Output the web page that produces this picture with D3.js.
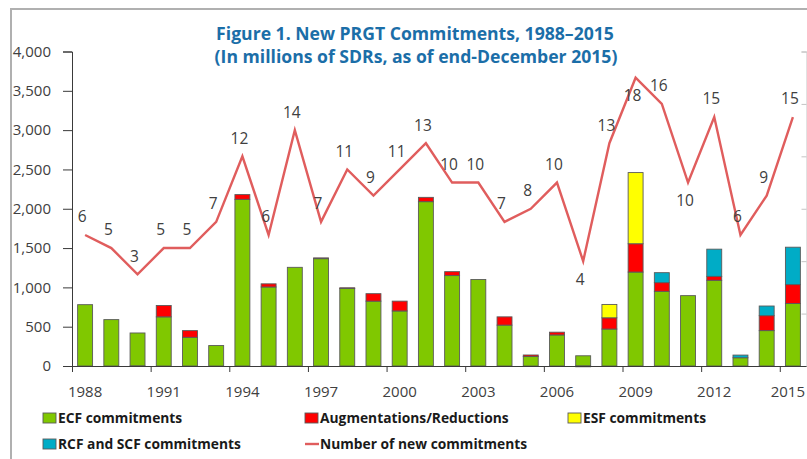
<!DOCTYPE html>
<html>
<head>
<meta charset="utf-8">
<script src="https://cdn.jsdelivr.net/npm/d3@7"></script>
<style>
  body { margin: 0; background: #fff; }
  svg { display: block; font-family: "Open Sans", sans-serif; }
</style>
</head>
<body>
<svg id="chart" width="807" height="459"></svg>
<script>
// Data (millions of SDRs)
const years = [1988, 1989, 1990, 1991, 1992, 1993, 1994, 1995, 1996, 1997,
  1998, 1999, 2000, 2001, 2002, 2003, 2004, 2005, 2006, 2007,
  2008, 2009, 2010, 2011, 2012, 2013, 2014, 2015];
const ecf = [780, 590, 420, 625, 365, 260, 2120, 1005, 1255, 1365,
  985, 825, 700, 2090, 1150, 1100, 520, 120, 395, 130,
  470, 1195, 950, 895, 1090, 105, 450, 795];
const augmentations = [0, 0, -5, 145, 85, 0, 60, 40, 0, 10,
  10, 95, 125, 55, 50, 0, 105, 20, 35, -10,
  143, 360, 110, 0, 50, 0, 190, 240];
const esf = [0, 0, 0, 0, 0, 0, 0, 0, 0, 0,
  0, 0, 0, 0, 0, 0, 0, 0, 0, 0,
  170, 905, 0, 0, 0, 0, 0, 0];
const rcfScf = [0, 0, 0, 0, 0, 0, 0, 0, 0, 0,
  0, 0, 0, 0, 0, 0, 0, 0, 0, 0,
  0, 0, 127, 0, 346, 34, 123, 476];
const newCommitments = [6, 5, 3, 5, 5, 7, 12, 6, 14, 7,
  11, 9, 11, 13, 10, 10, 7, 8, 10, 4,
  13, 18, 16, 10, 15, 6, 9, 15];
// where each count label sits relative to its point
const labelSide = ["t", "t", "t", "t", "t", "t", "t", "t", "t", "t",
  "t", "t", "t", "t", "t", "t", "t", "t", "t", "b",
  "t", "b", "t", "b", "t", "t", "t", "t"];
const leftTicks = [0, 500, 1000, 1500, 2000, 2500, 3000, 3500, 4000];
const rightTicks = [-4, 0, 4, 8, 12, 16, 20];
const xLabelYears = [1988, 1991, 1994, 1997, 2000, 2003, 2006, 2009, 2012, 2015];

const seriesKeys = ["ecf", "aug", "esf", "rcf"];
const seriesColors = { ecf: "#80c800", aug: "#ff0000", esf: "#ffff00", rcf: "#00acc6" };
const lineColor = "#e05d5d";

const rows = years.map((yr, i) => ({
  year: yr, ecf: ecf[i], aug: augmentations[i], esf: esf[i], rcf: rcfScf[i]
}));

const svg = d3.select("#chart");

// Outer frame
svg.append("rect")
  .attr("x", 11).attr("y", 9)
  .attr("width", 900).attr("height", 600)
  .attr("fill", "none")
  .attr("stroke", "#b0b0b0")
  .attr("stroke-width", 2);

// Title
const title = svg.append("text")
  .attr("text-anchor", "middle")
  .attr("fill", "#1b6ea8")
  .style("font-size", "17.6px")
  .style("font-weight", "bold");
title.append("tspan").attr("x", 415).attr("y", 39.5)
  .text("Figure 1. New PRGT Commitments, 1988\u20132015");
title.append("tspan").attr("x", 416).attr("y", 63)
  .text("(In millions of SDRs, as of end-December 2015)");

// Scales
const plotLeft = 72, plotRight = 806, plotTop = 51.5, plotBottom = 366;

const x = d3.scaleBand()
  .domain(years)
  .range([plotLeft, plotRight])
  .paddingInner(0.43)
  .paddingOuter(0.215);

const xIdx = d3.scaleLinear().domain([0, years.length]).range([plotLeft, plotRight]);

const y = d3.scaleLinear().domain([0, 4000]).range([plotBottom, plotTop]);
const yR = d3.scaleLinear().domain([-4, 20]).range([plotBottom, plotTop]);

// Bars
const stacked = d3.stack()
  .keys(seriesKeys)
  .offset(d3.stackOffsetDiverging)(rows);

svg.append("g")
  .selectAll("g")
  .data(stacked)
  .join("g")
  .attr("fill", (d) => seriesColors[d.key])
  .selectAll("rect")
  .data((d) => d.filter((p) => p[1] !== p[0]))
  .join("rect")
  .attr("x", (d) => x(d.data.year))
  .attr("width", x.bandwidth())
  .attr("y", (d) => y(Math.max(d[0], d[1])))
  .attr("height", (d) => Math.abs(y(d[0]) - y(d[1])))
  .attr("stroke", "#5a5a5a")
  .attr("stroke-width", 0.9);

// Left axis
const yAxis = svg.append("g")
  .attr("transform", `translate(${plotLeft},0)`)
  .call(d3.axisLeft(y).tickValues(leftTicks).tickFormat(d3.format(","))
    .tickSize(9).tickPadding(12));
yAxis.select(".domain").attr("stroke", "#3a3a3a");
yAxis.selectAll(".tick line").attr("stroke", "#3a3a3a");
yAxis.selectAll("text")
  .attr("fill", "#404040")
  .style("font-size", "15px")
  .style("font-family", "'Open Sans', sans-serif");

// Right (secondary) axis, no labels
const yRAxis = svg.append("g")
  .attr("transform", `translate(${plotRight + 0.5},0)`)
  .call(d3.axisLeft(yR).tickValues(rightTicks).tickFormat("").tickSize(5));
yRAxis.selectAll(".domain, .tick line").attr("stroke", "#c4c4c4");

// Bottom axis: ticks at category boundaries, labels at category centres
const xTicks = svg.append("g")
  .attr("transform", `translate(0,${plotBottom})`)
  .call(d3.axisBottom(xIdx).tickValues(d3.range(0, years.length, 3))
    .tickFormat("").tickSize(6).tickSizeOuter(0));
xTicks.selectAll(".domain, .tick line").attr("stroke", "#3a3a3a");

const xLabels = svg.append("g")
  .attr("transform", `translate(0,${plotBottom})`)
  .call(d3.axisBottom(x).tickValues(xLabelYears).tickSize(0).tickPadding(20));
xLabels.select(".domain").remove();
xLabels.selectAll("text")
  .attr("fill", "#404040")
  .style("font-size", "15px")
  .style("font-family", "'Open Sans', sans-serif");
// last label sits against the right edge
xLabels.selectAll(".tick")
  .filter((d) => d === xLabelYears[xLabelYears.length - 1])
  .select("text")
  .attr("text-anchor", "end")
  .attr("x", plotRight - x(xLabelYears[xLabelYears.length - 1]) - x.bandwidth() / 2 - 1);

// Number of new commitments line
const cx = (yr) => x(yr) + x.bandwidth() / 2;
const line = d3.line()
  .x((d, i) => cx(years[i]))
  .y((d) => yR(d));

svg.append("path")
  .datum(newCommitments)
  .attr("fill", "none")
  .attr("stroke", lineColor)
  .attr("stroke-width", 2.4)
  .attr("stroke-linejoin", "miter")
  .attr("d", line);

svg.append("g")
  .selectAll("text")
  .data(newCommitments)
  .join("text")
  .attr("x", (d, i) => cx(years[i]) - 3)
  .attr("y", (d, i) => yR(d) + (labelSide[i] === "t" ? -18 : 18))
  .attr("dy", "0.35em")
  .attr("text-anchor", "middle")
  .attr("fill", "#404040")
  .style("font-size", "15.5px")
  .text((d) => d);

// Legend
const legendItems = [
  { label: "ECF commitments", color: seriesColors.ecf, type: "box" },
  { label: "Augmentations/Reductions", color: seriesColors.aug, type: "box" },
  { label: "ESF commitments", color: seriesColors.esf, type: "box" },
  { label: "RCF and SCF commitments", color: seriesColors.rcf, type: "box" },
  { label: "Number of new commitments", color: lineColor, type: "line" }
];
const legendCols = [43, 305, 568];
const legendRows = [418, 444];

const legend = svg.append("g")
  .selectAll("g")
  .data(legendItems)
  .join("g")
  .attr("transform", (d, i) =>
    `translate(${legendCols[i % 3]},${legendRows[Math.floor(i / 3)]})`);

legend.filter((d) => d.type === "box")
  .append("rect")
  .attr("x", 0).attr("y", -5)
  .attr("width", 13).attr("height", 10)
  .attr("fill", (d) => d.color)
  .attr("stroke", "#5a5a5a")
  .attr("stroke-width", 0.9);

legend.filter((d) => d.type === "line")
  .append("line")
  .attr("x1", 0).attr("x2", 14)
  .attr("y1", 0).attr("y2", 0)
  .attr("stroke", (d) => d.color)
  .attr("stroke-width", 2.4);

legend.append("text")
  .attr("x", 15)
  .attr("dy", "0.35em")
  .attr("fill", "#1a1a1a")
  .style("font-size", "13.8px")
  .style("font-weight", "bold")
  .text((d) => d.label);
</script>
</body>
</html>
